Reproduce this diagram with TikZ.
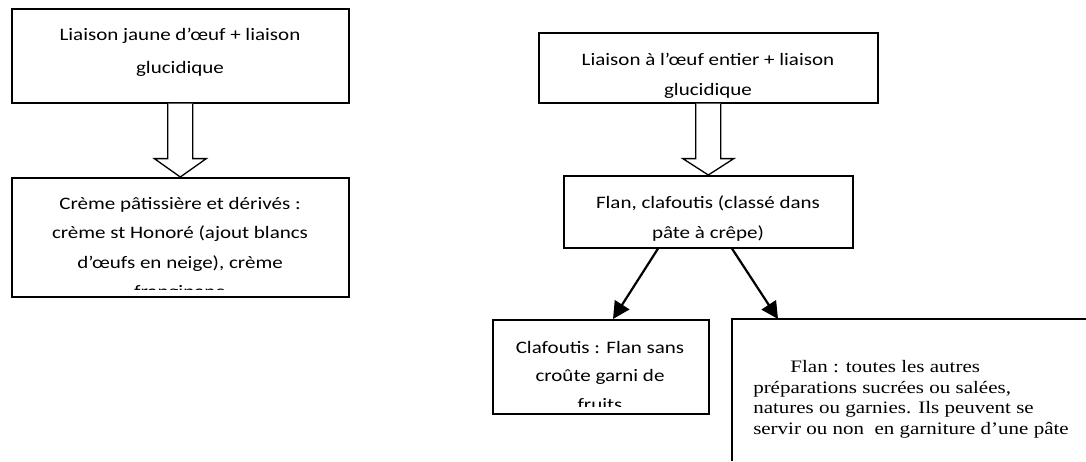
\documentclass[tikz,border=0pt]{standalone}
\usepackage{fontspec}
\setmainfont[FakeStretch=1.2]{Carlito}
\newfontfamily\timesfont{Liberation Serif}
\usetikzlibrary{calc,arrows.meta}
\tikzset{
  box/.style={draw, line width=1.6pt, anchor=north west, inner sep=0pt},
  txt/.style={align=center, inner sep=0pt, anchor=north, font=\fontsize{17.5}{30}\selectfont},
  hollow/.style={draw, line width=1.3pt, fill=white, line join=miter},
  conn/.style={line width=2.2pt, -{Triangle[length=17pt,width=17pt]}},
}
\begin{document}
\begin{tikzpicture}[x=1pt,y=-1pt]
\useasboundingbox (0,0) rectangle (1086,461);
% left column
\node[box, minimum width=337pt, minimum height=94pt] (b1) at (11,8) {};
\begin{scope}\clip (b1.north west) rectangle ($(b1.south east)+(0,-5)$);
\node[txt, font=\fontsize{17.5}{33}\selectfont] (t1) at (180,27.5) {Liaison jaune d’œuf + liaison\\glucidique};
\end{scope}
\node[box, minimum width=337pt, minimum height=119pt] (b2) at (11,177) {};
\begin{scope}\clip (b2.north west) rectangle ($(b2.south east)+(0,-8)$);
\node[txt, font=\fontsize{17.5}{29.5}\selectfont] (t2) at (180,197) {Crème pâtissière et dérivés :\\crème st Honoré (ajout blancs\\d’œufs en neige), crème\\frangipane};
\end{scope}
\draw[hollow] ($(b1.south)+(-12.5,0)$) -- ($(b1.south)+(-12.5,55)$) -- ($(b1.south)+(-26,55)$)
  -- (b2.north) -- ($(b1.south)+(26,55)$) -- ($(b1.south)+(12.5,55)$) -- ($(b1.south)+(12.5,0)$);
% right column
\node[box, minimum width=339pt, minimum height=70pt] (b3) at (538,32) {};
\begin{scope}\clip (b3.north west) rectangle ($(b3.south east)+(0,-6.5)$);
\node[txt, font=\fontsize{17.5}{29.5}\selectfont] (t3) at (708,53) {Liaison à l’œuf entier + liaison\\glucidique};
\end{scope}
\node[box, minimum width=289pt, minimum height=72pt] (b4) at (563,175) {};
\begin{scope}\clip (b4.north west) rectangle ($(b4.south east)+(0,-7.5)$);
\node[txt] (t4) at (708,196) {Flan, clafoutis (classé dans\\pâte à crêpe)};
\end{scope}
\draw[hollow] ($(b3.south)+(-12.5,0)$) -- ($(b3.south)+(-12.5,55)$) -- ($(b3.south)+(-25.5,55)$)
  -- (b4.north -| b3.south) -- ($(b3.south)+(25.5,55)$) -- ($(b3.south)+(12.5,55)$) -- ($(b3.south)+(12.5,0)$);
\node[box, minimum width=216pt, minimum height=94pt] (b5) at (492,319) {};
\begin{scope}\clip (b5.north west) rectangle ($(b5.south east)+(0,-8)$);
\node[txt, font=\fontsize{17.5}{28.5}\selectfont] (t5) at (600,341) {Clafoutis : Flan sans\\croûte garni de\\fruits};
\end{scope}
\node[anchor=north west, minimum width=354pt, minimum height=142pt, inner sep=0pt] (b6) at (732,319) {};
\draw[line width=1.6pt] (b6.north east) -- (b6.north west) -- (b6.south west);
\begin{scope}[shift={(753,360)}]
\node[anchor=north west, align=left, inner sep=0pt, xscale=1.2, transform shape, font=\timesfont\fontsize{17.5}{20.7}\selectfont] (t6) at (0,0)
  {\hspace*{31pt}Flan : toutes les autres\\préparations sucrées ou salées,\\natures ou garnies. Ils peuvent se\\servir ou non \ en garniture d’une pâte};
\end{scope}
% connectors
\draw[conn] ($(b4.south west)+(95,0)$) -- ($(b5.north west)+(121,0)$);
\draw[conn] ($(b4.south west)+(169,0)$) -- ($(b6.north west)+(46,0)$);
\end{tikzpicture}
\end{document}
